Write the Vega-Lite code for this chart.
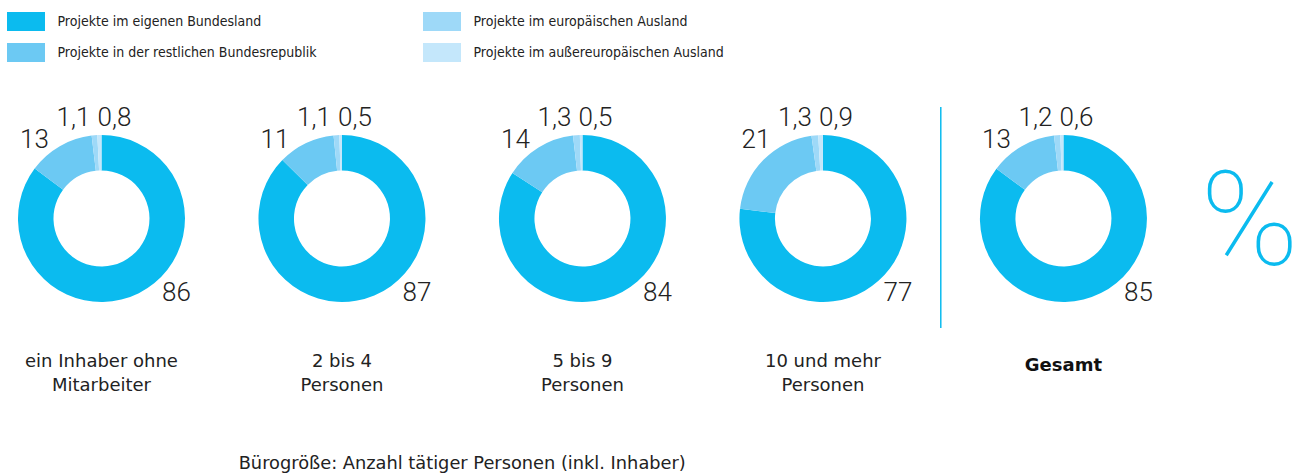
{
  "$schema": "https://vega.github.io/schema/vega-lite/v6.json",
  "width": 1302,
  "height": 475,
  "autosize": {"type": "none"},
  "padding": 0,
  "background": "white",
  "config": {
    "view": {"stroke": null},
    "locale": {"number": {"decimal": ",", "thousands": ".", "grouping": [3], "currency": ["", " €"]}}
  },
  "datasets": {
    "shares": [
      {"group": "ein Inhaber ohne Mitarbeiter", "idx": 1, "cat": "Projekte im eigenen Bundesland", "order": 1, "value": 86},
      {"group": "ein Inhaber ohne Mitarbeiter", "idx": 1, "cat": "Projekte in der restlichen Bundesrepublik", "order": 2, "value": 13},
      {"group": "ein Inhaber ohne Mitarbeiter", "idx": 1, "cat": "Projekte im europäischen Ausland", "order": 3, "value": 1.1},
      {"group": "ein Inhaber ohne Mitarbeiter", "idx": 1, "cat": "Projekte im außereuropäischen Ausland", "order": 4, "value": 0.8},
      {"group": "2 bis 4 Personen", "idx": 2, "cat": "Projekte im eigenen Bundesland", "order": 1, "value": 87},
      {"group": "2 bis 4 Personen", "idx": 2, "cat": "Projekte in der restlichen Bundesrepublik", "order": 2, "value": 11},
      {"group": "2 bis 4 Personen", "idx": 2, "cat": "Projekte im europäischen Ausland", "order": 3, "value": 1.1},
      {"group": "2 bis 4 Personen", "idx": 2, "cat": "Projekte im außereuropäischen Ausland", "order": 4, "value": 0.5},
      {"group": "5 bis 9 Personen", "idx": 3, "cat": "Projekte im eigenen Bundesland", "order": 1, "value": 84},
      {"group": "5 bis 9 Personen", "idx": 3, "cat": "Projekte in der restlichen Bundesrepublik", "order": 2, "value": 14},
      {"group": "5 bis 9 Personen", "idx": 3, "cat": "Projekte im europäischen Ausland", "order": 3, "value": 1.3},
      {"group": "5 bis 9 Personen", "idx": 3, "cat": "Projekte im außereuropäischen Ausland", "order": 4, "value": 0.5},
      {"group": "10 und mehr Personen", "idx": 4, "cat": "Projekte im eigenen Bundesland", "order": 1, "value": 77},
      {"group": "10 und mehr Personen", "idx": 4, "cat": "Projekte in der restlichen Bundesrepublik", "order": 2, "value": 21},
      {"group": "10 und mehr Personen", "idx": 4, "cat": "Projekte im europäischen Ausland", "order": 3, "value": 1.3},
      {"group": "10 und mehr Personen", "idx": 4, "cat": "Projekte im außereuropäischen Ausland", "order": 4, "value": 0.9},
      {"group": "Gesamt", "idx": 5, "cat": "Projekte im eigenen Bundesland", "order": 1, "value": 85},
      {"group": "Gesamt", "idx": 5, "cat": "Projekte in der restlichen Bundesrepublik", "order": 2, "value": 13},
      {"group": "Gesamt", "idx": 5, "cat": "Projekte im europäischen Ausland", "order": 3, "value": 1.2},
      {"group": "Gesamt", "idx": 5, "cat": "Projekte im außereuropäischen Ausland", "order": 4, "value": 0.6}
    ],
    "groups": [
      {"idx": 1, "label": "ein Inhaber ohne\nMitarbeiter", "total": false},
      {"idx": 2, "label": "2 bis 4\nPersonen", "total": false},
      {"idx": 3, "label": "5 bis 9\nPersonen", "total": false},
      {"idx": 4, "label": "10 und mehr\nPersonen", "total": false},
      {"idx": 5, "label": "Gesamt", "total": true}
    ]
  },
  "layer": [
    {
      "data": {"name": "shares"},
      "transform": [
        {"stack": "value", "groupby": ["group"], "sort": [{"field": "order", "order": "ascending"}], "offset": "normalize", "as": ["v0", "v1"]}
      ],
      "mark": {"type": "arc", "radius": 83.5, "innerRadius": 48},
      "encoding": {
        "x": {"field": "idx", "type": "quantitative", "stack": null, "scale": {"domain": [0.578, 5.992], "nice": false, "zero": false}, "axis": null},
        "y": {"datum": 0, "type": "quantitative", "stack": null, "scale": {"domain": [-3.078, 2.622], "nice": false, "zero": false}, "axis": null},
        "theta": {"field": "v0", "type": "quantitative", "scale": {"domain": [0, 1], "range": [0, 6.283185307179586]}},
        "theta2": {"field": "v1"},
        "color": {
          "field": "cat",
          "type": "nominal",
          "scale": {
            "domain": ["Projekte im eigenen Bundesland", "Projekte in der restlichen Bundesrepublik", "Projekte im europäischen Ausland", "Projekte im außereuropäischen Ausland"],
            "range": ["#0bbbef", "#6cc9f3", "#9ed9f8", "#c4e7fb"]
          },
          "legend": {
            "title": null,
            "orient": "none",
            "legendX": 16.5,
            "legendY": 12,
            "padding": 0,
            "columns": 2,
            "columnPadding": 105,
            "rowPadding": 12,
            "symbolType": "M-2,-1H2V1H-2Z",
            "symbolSize": 361,
            "symbolStrokeWidth": 0,
            "symbolOpacity": 1,
            "labelFont": "DejaVu Sans Condensed, DejaVu Sans",
            "labelFontSize": 14,
            "labelColor": "#222222",
            "labelOffset": 22,
            "labelLimit": 400
          }
        }
      }
    },
    {
      "data": {"name": "shares"},
      "transform": [{"filter": "datum.order == 1"}],
      "mark": {"type": "text", "font": "Roboto", "fontWeight": 300, "fontSize": 26, "align": "center", "baseline": "alphabetic", "dx": 75, "dy": 82, "color": "#222222"},
      "encoding": {
        "x": {"field": "idx", "type": "quantitative", "axis": null},
        "y": {"datum": 0, "type": "quantitative", "axis": null},
        "text": {"field": "value", "type": "quantitative", "format": "~g"}
      }
    },
    {
      "data": {"name": "shares"},
      "transform": [{"filter": "datum.order == 2"}],
      "mark": {"type": "text", "font": "Roboto", "fontWeight": 300, "fontSize": 26, "align": "center", "baseline": "alphabetic", "dx": -67, "dy": -71, "color": "#222222"},
      "encoding": {
        "x": {"field": "idx", "type": "quantitative", "axis": null},
        "y": {"datum": 0, "type": "quantitative", "axis": null},
        "text": {"field": "value", "type": "quantitative", "format": "~g"}
      }
    },
    {
      "data": {"name": "shares"},
      "transform": [{"filter": "datum.order == 3"}],
      "mark": {"type": "text", "font": "Roboto", "fontWeight": 300, "fontSize": 26, "align": "center", "baseline": "alphabetic", "dx": -28, "dy": -93, "color": "#222222"},
      "encoding": {
        "x": {"field": "idx", "type": "quantitative", "axis": null},
        "y": {"datum": 0, "type": "quantitative", "axis": null},
        "text": {"field": "value", "type": "quantitative", "format": "~g"}
      }
    },
    {
      "data": {"name": "shares"},
      "transform": [{"filter": "datum.order == 4"}],
      "mark": {"type": "text", "font": "Roboto", "fontWeight": 300, "fontSize": 26, "align": "center", "baseline": "alphabetic", "dx": 13, "dy": -93, "color": "#222222"},
      "encoding": {
        "x": {"field": "idx", "type": "quantitative", "axis": null},
        "y": {"datum": 0, "type": "quantitative", "axis": null},
        "text": {"field": "value", "type": "quantitative", "format": "~g"}
      }
    },
    {
      "data": {"name": "groups"},
      "transform": [{"filter": "!datum.total"}],
      "mark": {"type": "text", "font": "DejaVu Sans", "fontSize": 18, "align": "center", "baseline": "alphabetic", "lineBreak": "\n", "lineHeight": 24, "color": "#222222"},
      "encoding": {
        "x": {"field": "idx", "type": "quantitative", "axis": null},
        "y": {"datum": -1.782, "type": "quantitative", "axis": null},
        "text": {"field": "label", "type": "nominal"}
      }
    },
    {
      "data": {"name": "groups"},
      "transform": [{"filter": "datum.total"}],
      "mark": {"type": "text", "font": "DejaVu Sans", "fontSize": 18, "fontWeight": "bold", "align": "center", "baseline": "alphabetic", "color": "#111111"},
      "encoding": {
        "x": {"field": "idx", "type": "quantitative", "axis": null},
        "y": {"datum": -1.83, "type": "quantitative", "axis": null},
        "text": {"field": "label", "type": "nominal"}
      }
    },
    {
      "data": {"values": [{}]},
      "mark": {"type": "rule", "color": "#0bbbef", "strokeWidth": 1.5},
      "encoding": {
        "x": {"datum": 4.49, "type": "quantitative", "axis": null},
        "y": {"datum": 1.338, "type": "quantitative", "axis": null},
        "y2": {"datum": -1.314}
      }
    },
    {
      "data": {"values": [{}]},
      "mark": {"type": "text", "text": "%", "font": "Roboto", "fontWeight": 100, "fontSize": 132, "align": "center", "baseline": "middle", "dy": 6, "color": "#0bbbef"},
      "encoding": {
        "x": {"datum": 5.775, "type": "quantitative", "axis": null},
        "y": {"datum": 0, "type": "quantitative", "axis": null}
      }
    },
    {
      "data": {"values": [{}]},
      "mark": {"type": "text", "text": "Bürogröße: Anzahl tätiger Personen (inkl. Inhaber)", "font": "DejaVu Sans", "fontSize": 17.8, "align": "center", "baseline": "alphabetic", "color": "#222222"},
      "encoding": {
        "x": {"datum": 2.5, "type": "quantitative", "axis": null},
        "y": {"datum": -3.0, "type": "quantitative", "axis": null}
      }
    }
  ]
}
